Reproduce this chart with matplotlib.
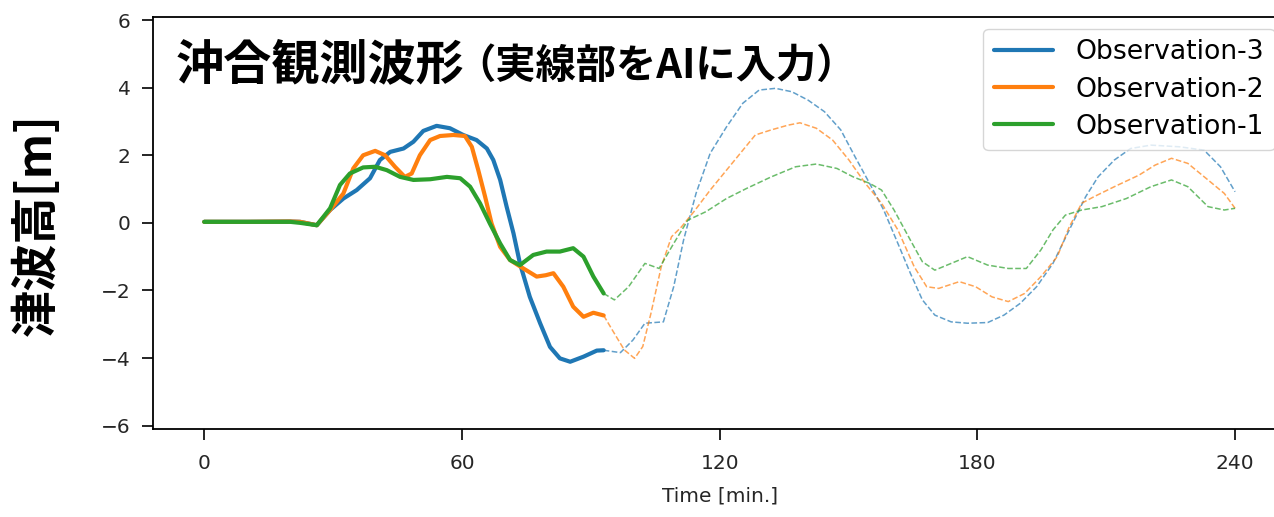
import numpy as np
import matplotlib
matplotlib.use("Agg")
import matplotlib.pyplot as plt

# values (time in minutes, height in m)
t_obs3 = [0, 10, 20, 22.3, 26.2, 29.3, 32.4, 35.5, 38.6, 40.9, 43.3, 46.4, 48.7, 51.0, 54.1,
          57.2, 60.3, 63.4, 65.8, 67.3, 68.9, 70.4, 72.0, 73.5, 75.8, 78.2, 80.5, 82.8, 85.2,
          88.3, 91.4, 93, 96.9, 99.8, 102.6, 106.9, 109.3, 111.6, 114.5, 117.8, 121.6, 125.4,
          129.2, 133.0, 136.8, 140.6, 144.4, 148.2, 151.5, 154.9, 158.2, 161.5, 164.4, 167.2,
          170.1, 173.9, 177.7, 182.4, 186.2, 190.0, 193.8, 197.6, 201.4, 205.2, 208.1, 211.9,
          215.7, 220.4, 227.1, 232.8, 236.6, 240]
y_obs3 = [0.03, 0.03, 0.04, 0.03, -0.07, 0.38, 0.72, 0.97, 1.32, 1.86, 2.1, 2.2, 2.4, 2.72, 2.87,
          2.8, 2.6, 2.45, 2.2, 1.86, 1.27, 0.48, -0.31, -1.2, -2.19, -2.97, -3.67, -4.01, -4.11,
          -3.96, -3.78, -3.77, -3.84, -3.47, -2.97, -2.93, -1.89, -0.51, 0.87, 2.06, 2.84, 3.54,
          3.93, 3.98, 3.88, 3.63, 3.29, 2.75, 1.96, 1.17, 0.38, -0.61, -1.49, -2.28,
          -2.73, -2.93, -2.97, -2.95, -2.73, -2.38, -1.89, -1.2, -0.21, 0.77, 1.36, 1.86,
          2.2, 2.3, 2.25, 2.15, 1.66, 0.92]

t_obs2 = [0, 10, 20, 22.3, 26.2, 29.3, 32.4, 34.7, 37.0, 39.8, 42.1, 44.4, 46.7, 48.3, 50.2,
          52.6, 54.9, 58.0, 60.7, 62.3, 63.8, 65.4, 66.9, 68.9, 71.2, 74.3, 77.4, 79.5, 81.3,
          83.6, 85.9, 88.3, 90.6, 93, 95.0, 97.8, 100.2, 102.1, 104.0, 106.4, 108.8, 111.1,
          114.0, 117.8, 121.6, 125.4, 128.3, 132.0, 135.9, 138.7, 142.5, 146.3, 150.1, 153.9,
          157.7, 161.5, 165.3, 168.2, 171.0, 175.8, 179.6, 183.4, 187.2, 191.0, 194.8, 198.6,
          201.4, 204.3, 207.1, 211.9, 217.6, 221.4, 225.2, 229.0, 233.7, 237.5, 240]
y_obs2 = [0.03, 0.03, 0.04, 0.03, -0.07, 0.38, 0.87, 1.61, 2.0, 2.13, 2.0, 1.66, 1.36, 1.46, 2.0,
          2.45, 2.57, 2.6, 2.57, 2.25, 1.56, 0.77, -0.02, -0.71, -1.1, -1.35, -1.59, -1.55, -1.49,
          -1.89, -2.48, -2.78, -2.66, -2.74, -3.17, -3.76, -4.01, -3.66, -2.68, -1.3, -0.41, -0.12,
          0.33, 0.97, 1.56, 2.15, 2.6, 2.75, 2.89, 2.96, 2.8, 2.45, 1.86, 1.17,
          0.58, -0.21, -1.3, -1.89, -1.94, -1.74, -1.89, -2.19, -2.33, -2.09, -1.59, -1.0,
          -0.12, 0.58, 0.77, 1.07, 1.41, 1.71, 1.91, 1.76, 1.27, 0.87, 0.43]

t_obs1 = [0, 10, 20, 22.3, 26.2, 29.3, 31.6, 33.9, 37.0, 39.8, 42.5, 45.6, 48.7, 52.6, 56.5,
          59.6, 61.9, 64.2, 66.5, 68.9, 71.2, 73.5, 76.6, 79.7, 82.8, 85.9, 88.3, 90.6, 93,
          95.5, 98.8, 102.6, 105.9, 109.3, 112.6, 116.8, 121.6, 126.3, 132.0, 137.7, 142.5,
          147.3, 151.1, 154.9, 157.7, 160.6, 164.4, 167.2, 170.1, 173.9, 177.7, 182.4, 187.2,
          191.4, 194.8, 197.6, 200.5, 204.3, 209.0, 214.7, 220.4, 225.2, 229.0, 233.7, 237.5, 240]
y_obs1 = [0.03, 0.03, 0.03, 0.0, -0.07, 0.43, 1.12, 1.46, 1.64, 1.66, 1.56, 1.36, 1.27, 1.29, 1.36,
          1.32, 1.07, 0.58, -0.02, -0.61, -1.1, -1.25, -0.95, -0.85, -0.85, -0.75, -1.0, -1.59, -2.09,
          -2.28, -1.89, -1.2, -1.35, -0.61, 0.08, 0.33, 0.72, 1.02, 1.36, 1.66, 1.74,
          1.61, 1.36, 1.17, 0.97, 0.38, -0.51, -1.15, -1.4, -1.2, -1.0, -1.25, -1.35,
          -1.35, -0.8, -0.21, 0.23, 0.38, 0.48, 0.72, 1.07, 1.27, 1.07, 0.48, 0.38, 0.43]

input_end = 93  # solid part = AI input
series = [("Observation-3", t_obs3, y_obs3, "#1f77b4"),
          ("Observation-2", t_obs2, y_obs2, "#ff7f0e"),
          ("Observation-1", t_obs1, y_obs1, "#2ca02c")]

W, H = 1274, 517
fig = plt.figure(figsize=(W / 100, H / 100), dpi=100)
ax = fig.add_axes([152.7 / W, 1 - 429 / H, (1286.6 - 152.7) / W, (429 - 16.7) / H])

for name, t, y, c in series:
    t = np.array(t)
    y = np.array(y)
    solid = t <= input_end
    dash = t >= input_end
    ax.plot(t[solid], y[solid], color=c, lw=3, label=name,
            solid_capstyle="round", solid_joinstyle="round")
    ax.plot(t[dash], y[dash], color=c, lw=1.1, ls="--", alpha=0.7, label="_nolegend_",
            dash_joinstyle="round")

ax.set_xlim(-12, 252)
ax.set_ylim(-6.1, 6.1)
ax.set_xticks([0, 60, 120, 180, 240])
ax.set_yticks([-6, -4, -2, 0, 2, 4, 6])
ax.yaxis.set_major_formatter(matplotlib.ticker.FuncFormatter(lambda v, p: f"{v:.0f}".replace("-", "\u2212")))
ax.tick_params(axis="both", labelsize=14.5, labelcolor="#262626", length=8, width=1.2)
ax.tick_params(axis="y", pad=8)
ax.tick_params(axis="x", pad=10)
ax.spines["right"].set_visible(False)
for s in ["left", "bottom", "top"]:
    ax.spines[s].set_linewidth(1.3)

ax.set_xlabel("Time [min.]", fontsize=14.5, color="#262626", labelpad=9.5)

leg = ax.legend(loc="upper right", fontsize=19.2, handlelength=2.2, borderaxespad=0.45,
                labelspacing=0.42, handletextpad=0.85)
leg.get_frame().set_edgecolor("#cccccc")

jp = ["Noto Sans CJK JP", "DejaVu Sans"]
fig.text(176 / W, 1 - 65 / H, "沖合観測波形", family=jp, fontsize=34.7, fontweight="bold",
         ha="left", va="center")
fig.text(455 / W, 1 - 66 / H, "（実線部をAIに入力）", family=jp, fontsize=29, fontweight="bold",
         ha="left", va="center")
fig.text(37 / W, 1 - 224 / H, "津波高[m]", family=jp, fontsize=34, fontweight="bold",
         rotation=90, ha="center", va="center")

fig.savefig("out.png", dpi=100)
